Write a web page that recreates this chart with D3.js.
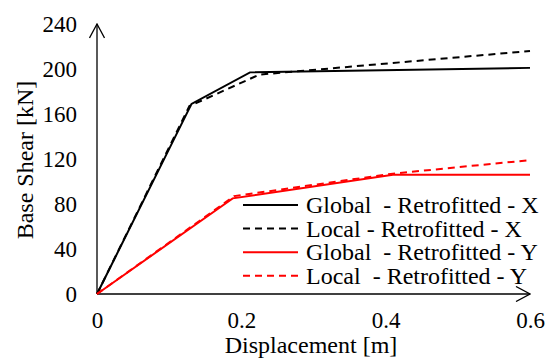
<!DOCTYPE html>
<html>
<head>
<meta charset="utf-8">
<script src="https://cdn.jsdelivr.net/npm/d3@7"></script>
<style>
  body { margin: 0; background: #fff; }
</style>
</head>
<body>
<div id="chart"></div>
<script>
var w = 548;
var h = 358;
var font = "'Liberation Serif', 'Times New Roman', serif";
var fontSize = "24px";

// data (displacement [m], base shear [kN])
var globalX = [[0, 0], [0.131, 169], [0.212, 197], [0.6, 201]];
var localX  = [[0, 0], [0.128, 167], [0.225, 195], [0.6, 216]];
var globalY = [[0, 0], [0.188, 85], [0.41, 106], [0.6, 106]];
var localY  = [[0, 0], [0.19, 87], [0.41, 107], [0.6, 119]];

var xTicks = [0, 0.2, 0.4, 0.6];
var yTicks = [0, 40, 80, 120, 160, 200, 240];

var seriesNames = ["Global  - Retrofitted - X", "Local - Retrofitted - X",
                   "Global  - Retrofitted - Y", "Local  - Retrofitted - Y"];
var seriesColors = ["#000000", "#000000", "#ff0000", "#ff0000"];
var seriesDash = [null, "7,5", null, "7,5"];
var seriesData = [globalX, localX, globalY, localY];

var svg = d3.select("#chart")
            .append("svg")
            .attr("width", w)
            .attr("height", h);

var xScale = d3.scaleLinear().domain([0, 0.6]).range([97, 530]);
var yScale = d3.scaleLinear().domain([0, 240]).range([294, 24]);

// open arrow head for the axes
svg.append("defs").append("marker")
    .attr("id", "arrow")
    .attr("viewBox", "0 0 16 16")
    .attr("refX", 15)
    .attr("refY", 8)
    .attr("markerWidth", 16)
    .attr("markerHeight", 16)
    .attr("markerUnits", "userSpaceOnUse")
    .attr("orient", "auto")
    .append("path")
    .attr("d", "M1,0.5 L15,8 L1,15.5")
    .attr("fill", "none")
    .attr("stroke", "#000")
    .attr("stroke-width", 1.3);

// axes (no tick marks)
var xAxis = svg.append("g")
    .attr("transform", "translate(0," + yScale(0) + ")")
    .call(d3.axisBottom(xScale).tickValues(xTicks).tickSize(0).tickPadding(18)
          .tickFormat(function(d) { return d === 0 ? "0" : d3.format(".1f")(d); }));
xAxis.select(".domain").remove();

var yAxis = svg.append("g")
    .attr("transform", "translate(" + xScale(0) + ",0)")
    .call(d3.axisLeft(yScale).tickValues(yTicks).tickSize(0).tickPadding(20));
yAxis.select(".domain").remove();

svg.selectAll(".tick text")
    .style("font-size", "23px")
    .style("font-family", font)
    .attr("fill", "#000");

svg.append("line")
    .attr("x1", xScale(0)).attr("y1", yScale(0))
    .attr("x2", xScale(0.6)).attr("y2", yScale(0))
    .attr("stroke", "#000").attr("stroke-width", 1.3)
    .attr("marker-end", "url(#arrow)");

svg.append("line")
    .attr("x1", xScale(0)).attr("y1", yScale(0))
    .attr("x2", xScale(0)).attr("y2", yScale(240))
    .attr("stroke", "#000").attr("stroke-width", 1.3)
    .attr("marker-end", "url(#arrow)");

// series lines
var line = d3.line()
    .x(function(d) { return xScale(d[0]); })
    .y(function(d) { return yScale(d[1]); });

svg.selectAll(".series")
    .data(seriesData)
    .enter()
    .append("path")
    .attr("class", "series")
    .attr("d", line)
    .attr("fill", "none")
    .attr("stroke", function(d, i) { return seriesColors[i]; })
    .attr("stroke-width", 2)
    .attr("stroke-dasharray", function(d, i) { return seriesDash[i]; });

// legend
var legend = svg.selectAll(".legend")
    .data(seriesNames)
    .enter()
    .append("g")
    .attr("class", "legend")
    .attr("transform", function(d, i) { return "translate(243," + (205 + i * 23.6) + ")"; });

legend.append("line")
    .attr("x1", 0).attr("x2", 55)
    .attr("stroke", function(d, i) { return seriesColors[i]; })
    .attr("stroke-width", 2)
    .attr("stroke-dasharray", function(d, i) { return seriesDash[i]; });

legend.append("text")
    .attr("x", 63)
    .attr("dy", "0.33em")
    .style("font-size", fontSize)
    .style("font-family", font)
    .style("white-space", "pre")
    .text(function(d) { return d; });

// axis titles
svg.append("text")
    .attr("x", 311)
    .attr("y", 353)
    .attr("text-anchor", "middle")
    .style("font-size", fontSize)
    .style("font-family", font)
    .text("Displacement [m]");

svg.append("text")
    .attr("transform", "translate(33,160) rotate(-90)")
    .attr("text-anchor", "middle")
    .style("font-size", fontSize)
    .style("font-family", font)
    .text("Base Shear [kN]");
</script>
</body>
</html>
